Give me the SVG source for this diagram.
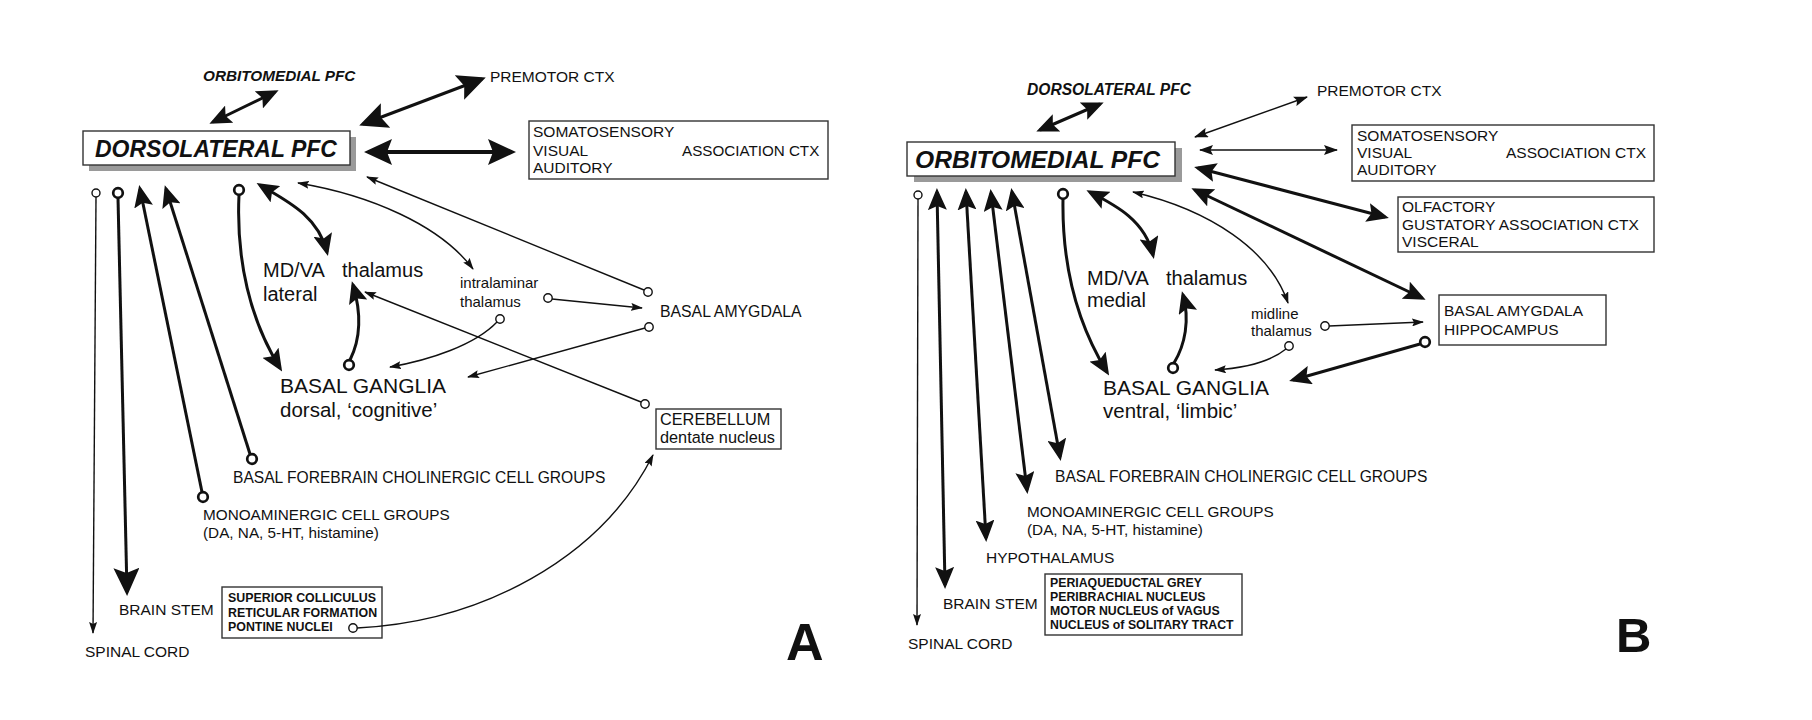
<svg xmlns="http://www.w3.org/2000/svg" width="1812" height="720" viewBox="0 0 1812 720">
<style>
.t{font-family:"Liberation Sans",Arial,sans-serif;font-size:15.5px;fill:#111}
.bi{font-weight:bold;font-style:italic}
.sm{font-family:"Liberation Sans",Arial,sans-serif;font-size:12.3px;font-weight:bold;fill:#111}
.box{fill:#fff;stroke:#333;stroke-width:1.4}
.sh{fill:#9a9a9a}
.c{fill:none;stroke:#111;stroke-linecap:butt}
.w1{stroke-width:1.4}
.w3{stroke-width:3}
.w4{stroke-width:3.8}
.o{fill:#fff;stroke:#111;stroke-width:1.4}
.O{fill:#fff;stroke:#111;stroke-width:2.7}
</style>
<defs>
<marker id="aL" markerUnits="userSpaceOnUse" markerWidth="28" markerHeight="26" viewBox="0 0 28 26" refX="24" refY="13" orient="auto-start-reverse"><path d="M0,0 L28,13 L0,26 L5,13 z" fill="#111"/></marker>
<marker id="aM" markerUnits="userSpaceOnUse" markerWidth="22" markerHeight="19" viewBox="0 0 22 19" refX="18" refY="9.5" orient="auto-start-reverse"><path d="M0,0 L22,9.5 L0,19 L4,9.5 z" fill="#111"/></marker>
<marker id="aS" markerUnits="userSpaceOnUse" markerWidth="12" markerHeight="8" viewBox="0 0 12 8" refX="11" refY="4" orient="auto-start-reverse"><path d="M0,0 L12,4 L0,8 L2,4 z" fill="#111"/></marker>
<marker id="aT" markerUnits="userSpaceOnUse" markerWidth="14" markerHeight="10" viewBox="0 0 14 10" refX="13" refY="5" orient="auto-start-reverse"><path d="M0,0 L14,5 L0,10 L2.5,5 z" fill="#111"/></marker>
</defs>

<!-- ================= PANEL A nodes ================= -->
<g id="A-orbitomedial"><text class="t bi" x="203" y="81" style="font-size:15.3px">ORBITOMEDIAL PFC</text></g>
<g id="A-dlpfc">
<rect class="sh" x="89" y="137" width="267" height="34"/>
<rect class="box" x="83" y="131" width="267" height="34"/>
<text class="t bi" x="95" y="157" style="font-size:23px">DORSOLATERAL PFC</text>
</g>
<g id="A-premotor"><text class="t" x="490" y="82">PREMOTOR CTX</text></g>
<g id="A-assoc">
<rect class="box" x="529" y="121" width="299" height="58"/>
<text class="t" x="533" y="137">SOMATOSENSORY</text>
<text class="t" x="533" y="156">VISUAL</text>
<text class="t" x="533" y="173">AUDITORY</text>
<text class="t" x="682" y="156" style="font-size:15.2px">ASSOCIATION CTX</text>
</g>
<g id="A-mdva">
<text class="t" x="263" y="277" style="font-size:20px">MD/VA</text>
<text class="t" x="342" y="277" style="font-size:20px">thalamus</text>
<text class="t" x="263" y="301" style="font-size:20px">lateral</text>
</g>
<g id="A-intralaminar">
<text class="t" x="460" y="288" style="font-size:15px">intralaminar</text>
<text class="t" x="460" y="307" style="font-size:15px">thalamus</text>
</g>
<g id="A-amygdala"><text class="t" x="660" y="317" style="font-size:15.8px">BASAL AMYGDALA</text></g>
<g id="A-bg">
<text class="t" x="280" y="393" style="font-size:21px">BASAL GANGLIA</text>
<text class="t" x="280" y="417" style="font-size:20.5px">dorsal, ‘cognitive’</text>
</g>
<g id="A-cerebellum">
<rect class="box" x="656" y="409" width="125" height="40"/>
<text class="t" x="660" y="425" style="font-size:16.3px">CEREBELLUM</text>
<text class="t" x="660" y="443" style="font-size:16.3px">dentate nucleus</text>
</g>
<g id="A-basalforebrain"><text class="t" x="233" y="483" style="font-size:15.6px">BASAL FOREBRAIN CHOLINERGIC CELL GROUPS</text></g>
<g id="A-monoamine">
<text class="t" x="203" y="520" style="font-size:15.3px">MONOAMINERGIC CELL GROUPS</text>
<text class="t" x="203" y="538" style="font-size:15.3px">(DA, NA, 5-HT, histamine)</text>
</g>
<g id="A-brainstem"><text class="t" x="119" y="615">BRAIN STEM</text></g>
<g id="A-brainstem-nuclei">
<rect class="box" x="222" y="587" width="160" height="51"/>
<text class="sm" x="228" y="602" style="font-size:12.4px">SUPERIOR COLLICULUS</text>
<text class="sm" x="228" y="617" style="font-size:12.4px">RETICULAR FORMATION</text>
<text class="sm" x="228" y="631" style="font-size:12.4px">PONTINE NUCLEI</text>
</g>
<g id="A-spinal"><text class="t" x="85" y="657">SPINAL CORD</text></g>
<g id="A-label"><text x="786" y="660" style="font-family:'Liberation Sans',Arial,sans-serif;font-size:52px;font-weight:bold;fill:#111">A</text></g>

<!-- ================= PANEL B nodes ================= -->
<g id="B-dorsolateral"><text class="t bi" x="1027" y="95" style="font-size:15.6px">DORSOLATERAL PFC</text></g>
<g id="B-ompfc">
<rect class="sh" x="914" y="148" width="268" height="34"/>
<rect class="box" x="907" y="142" width="268" height="34"/>
<text class="t bi" x="915" y="168" style="font-size:24.6px">ORBITOMEDIAL PFC</text>
</g>
<g id="B-premotor"><text class="t" x="1317" y="96">PREMOTOR CTX</text></g>
<g id="B-assoc">
<rect class="box" x="1352" y="125" width="302" height="56"/>
<text class="t" x="1357" y="141">SOMATOSENSORY</text>
<text class="t" x="1357" y="158">VISUAL</text>
<text class="t" x="1357" y="175">AUDITORY</text>
<text class="t" x="1506" y="158">ASSOCIATION CTX</text>
</g>
<g id="B-olfactory">
<rect class="box" x="1398" y="197" width="256" height="55"/>
<text class="t" x="1402" y="212">OLFACTORY</text>
<text class="t" x="1402" y="230">GUSTATORY ASSOCIATION CTX</text>
<text class="t" x="1402" y="247">VISCERAL</text>
</g>
<g id="B-amygdala">
<rect class="box" x="1439" y="295" width="167" height="50"/>
<text class="t" x="1444" y="316">BASAL AMYGDALA</text>
<text class="t" x="1444" y="335">HIPPOCAMPUS</text>
</g>
<g id="B-mdva">
<text class="t" x="1087" y="285" style="font-size:20px">MD/VA</text>
<text class="t" x="1166" y="285" style="font-size:20px">thalamus</text>
<text class="t" x="1087" y="307" style="font-size:20px">medial</text>
</g>
<g id="B-midline">
<text class="t" x="1251" y="319" style="font-size:15px">midline</text>
<text class="t" x="1251" y="336" style="font-size:15px">thalamus</text>
</g>
<g id="B-bg">
<text class="t" x="1103" y="395" style="font-size:21px">BASAL GANGLIA</text>
<text class="t" x="1103" y="418" style="font-size:20.5px">ventral, ‘limbic’</text>
</g>
<g id="B-basalforebrain"><text class="t" x="1055" y="482" style="font-size:15.6px">BASAL FOREBRAIN CHOLINERGIC CELL GROUPS</text></g>
<g id="B-monoamine">
<text class="t" x="1027" y="517" style="font-size:15.3px">MONOAMINERGIC CELL GROUPS</text>
<text class="t" x="1027" y="535" style="font-size:15.3px">(DA, NA, 5-HT, histamine)</text>
</g>
<g id="B-hypothalamus"><text class="t" x="986" y="563">HYPOTHALAMUS</text></g>
<g id="B-brainstem"><text class="t" x="943" y="609">BRAIN STEM</text></g>
<g id="B-brainstem-nuclei">
<rect class="box" x="1045" y="574" width="197" height="61"/>
<text class="sm" x="1050" y="587">PERIAQUEDUCTAL GREY</text>
<text class="sm" x="1050" y="601">PERIBRACHIAL NUCLEUS</text>
<text class="sm" x="1050" y="615">MOTOR NUCLEUS of VAGUS</text>
<text class="sm" x="1050" y="629">NUCLEUS of SOLITARY TRACT</text>
</g>
<g id="B-spinal"><text class="t" x="908" y="649">SPINAL CORD</text></g>
<g id="B-label"><text x="1616" y="652" style="font-family:'Liberation Sans',Arial,sans-serif;font-size:49px;font-weight:bold;fill:#111">B</text></g>

<!-- ================= connectors ================= -->
<g id="A-connectors">
<path class="c w3" d="M213,122 L275,92" marker-start="url(#aM)" marker-end="url(#aM)"/>
<path class="c w3" d="M363,124 L482,79" marker-start="url(#aL)" marker-end="url(#aL)"/>
<path class="c w4" d="M368,152 L512,152" marker-start="url(#aL)" marker-end="url(#aL)"/>
<path class="c w1" d="M96,197 L93,633" marker-end="url(#aS)"/>
<path class="c w3" d="M118,198 L127,592" marker-end="url(#aL)"/>
<path class="c w3" d="M202,492 L140,189" marker-end="url(#aM)"/>
<path class="c w3" d="M250,454 L166,189" marker-end="url(#aM)"/>
<path class="c w3" d="M239,195 C236,260 250,320 280,368" marker-end="url(#aM)"/>
<path class="c w3" d="M260,185 C285,200 318,215 327,252" marker-start="url(#aM)" marker-end="url(#aM)"/>
<path class="c w1" d="M298,183 C370,195 440,225 473,269" marker-start="url(#aS)" marker-end="url(#aS)"/>
<path class="c w1" d="M644,290 L367,177" marker-end="url(#aS)"/>
<path class="c w3" d="M350,360 C360,340 362,315 353,285" marker-end="url(#aM)"/>
<path class="c w1" d="M641,402 L365,292" marker-end="url(#aS)"/>
<path class="c w1" d="M552,299 L642,308" marker-end="url(#aS)"/>
<path class="c w1" d="M497,322 C475,345 430,360 390,367" marker-end="url(#aS)"/>
<path class="c w1" d="M645,328 L468,377" marker-end="url(#aS)"/>
<path class="c w1" d="M357,628 C480,622 600,560 653,455" marker-end="url(#aS)"/>
<circle class="o" cx="96" cy="193" r="4"/>
<circle class="O" cx="118" cy="193" r="4.8"/>
<circle class="O" cx="239" cy="190" r="4.8"/>
<circle class="O" cx="203" cy="497" r="4.8"/>
<circle class="O" cx="252" cy="459" r="4.8"/>
<circle class="O" cx="349" cy="365" r="4.8"/>
<circle class="o" cx="648" cy="292" r="4.2"/>
<circle class="o" cx="649" cy="327" r="4.2"/>
<circle class="o" cx="645" cy="404" r="4.2"/>
<circle class="o" cx="548" cy="298" r="4.2"/>
<circle class="o" cx="500" cy="319" r="4.2"/>
<circle class="o" cx="353" cy="628" r="4.2"/>
</g>

<g id="B-connectors">
<path class="c w3" d="M1040,130 L1100,104" marker-start="url(#aM)" marker-end="url(#aM)"/>
<path class="c w1" d="M1195,137 L1307,97" marker-start="url(#aT)" marker-end="url(#aT)"/>
<path class="c w1" d="M1200,150 L1337,150" marker-start="url(#aT)" marker-end="url(#aT)"/>
<path class="c w3" d="M1198,168 L1385,217" marker-start="url(#aM)" marker-end="url(#aM)"/>
<path class="c w3" d="M1195,190 L1422,298" marker-start="url(#aM)" marker-end="url(#aM)"/>
<path class="c w1" d="M918,199 L917,625" marker-end="url(#aS)"/>
<path class="c w3" d="M937,192 L945,585" marker-start="url(#aM)" marker-end="url(#aM)"/>
<path class="c w3" d="M966,192 L986,538" marker-start="url(#aM)" marker-end="url(#aM)"/>
<path class="c w3" d="M991,193 L1027,490" marker-start="url(#aM)" marker-end="url(#aM)"/>
<path class="c w3" d="M1012,192 L1060,457" marker-start="url(#aM)" marker-end="url(#aM)"/>
<path class="c w3" d="M1063,199 C1062,260 1075,320 1107,372" marker-end="url(#aM)"/>
<path class="c w3" d="M1090,192 C1115,205 1145,220 1153,255" marker-start="url(#aM)" marker-end="url(#aM)"/>
<path class="c w1" d="M1133,192 C1210,210 1270,250 1288,303" marker-start="url(#aS)" marker-end="url(#aS)"/>
<path class="c w3" d="M1174,363 C1185,345 1190,320 1183,295" marker-end="url(#aM)"/>
<path class="c w1" d="M1329,326 L1423,322" marker-end="url(#aS)"/>
<path class="c w1" d="M1286,349 C1270,362 1245,368 1215,370" marker-end="url(#aS)"/>
<path class="c w3" d="M1420,344 L1293,380" marker-end="url(#aM)"/>
<circle class="o" cx="918" cy="195" r="4"/>
<circle class="O" cx="1063" cy="194" r="4.8"/>
<circle class="O" cx="1173" cy="368" r="4.8"/>
<circle class="o" cx="1325" cy="326" r="4.2"/>
<circle class="o" cx="1289" cy="346" r="4.2"/>
<circle class="O" cx="1425" cy="342" r="4.8"/>
</g>
</svg>
